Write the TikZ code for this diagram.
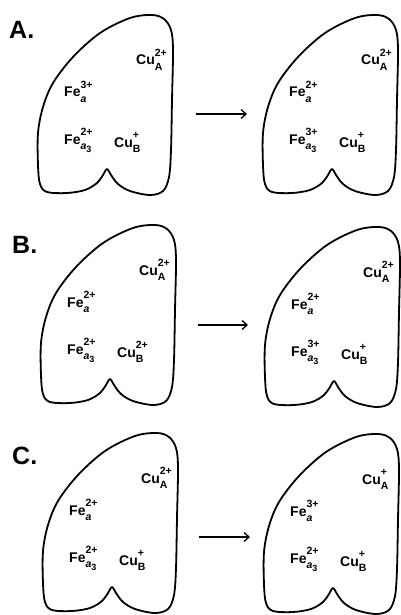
\documentclass[tikz,border=0pt]{standalone}
\usepackage{fontspec}
\setmainfont{Liberation Sans}
\usetikzlibrary{arrows.meta}

\newcommand\ionlbl[3]{#1\rlap{\raisebox{0.6em}{\fontsize{10.5}{10}\selectfont #2}}\raisebox{-0.4em}{\fontsize{10.5}{10}\selectfont #3}}

\tikzset{
 outline/.style={line width=1.8pt, line join=round},
 ionnode/.style={anchor=base west, inner sep=0pt, font=\bfseries\fontsize{14}{14}\selectfont},
 panellabel/.style={anchor=base west, inner sep=0pt, font=\bfseries\fontsize{25}{25}\selectfont},
 rxn/.style={line width=1.3pt, -{Straight Barb[length=5pt,width=9pt]}},
}

\newcommand\cellshape{\draw[outline] plot[smooth cycle, tension=0.55] coordinates {
(152,15) (164,19) (171,30) (173,50) (172,100) (171,150) (169,177) (163,191) (150,195)
(130,191) (118,184) (111,175) (107,169) (103,175) (97,183) (85,190) (67,193) (47,192)
(40,184) (38,165) (38,133) (43,107) (53,83) (73,57) (100,33) (130,18)};}

\newcommand\cell[6]{%
\begin{scope}[shift={#2}]
\cellshape
\node[ionnode] (#1cuA) at (136,65) {\ionlbl{Cu}{#6}{A}};
\node[ionnode] (#1fea) at (64,97) {\ionlbl{Fe}{#3}{\itshape a}};
\node[ionnode] (#1feaa) at (64,144) {\ionlbl{Fe}{#4}{{\itshape a}\raisebox{-0.3em}{\fontsize{9}{9}\selectfont 3}}};
\node[ionnode] (#1cuB) at (114,147) {\ionlbl{Cu}{#5}{B}};
\end{scope}}

\begin{document}
\begin{tikzpicture}[x=1pt,y=-1pt]
\useasboundingbox (0,0) rectangle (400,615);
\cell{al}{(0,0)}{3+}{2+}{+}{2+}
\cell{ar}{(225,0)}{2+}{3+}{+}{2+}
\cell{bl}{(3,210)}{2+}{2+}{2+}{2+}
\cell{br}{(227,212)}{2+}{3+}{+}{2+}
\cell{cl}{(5,418)}{2+}{2+}{+}{2+}
\cell{cr}{(226,419)}{3+}{2+}{+}{+}
\node[panellabel] (labA) at (9,39) {A.};
\node[panellabel] (labB) at (12,253) {B.};
\node[panellabel] (labC) at (12,464) {C.};
\coordinate (a1) at (196,114); \coordinate (a2) at (247,114);
\coordinate (b1) at (198,325); \coordinate (b2) at (248,325);
\coordinate (c1) at (199,537); \coordinate (c2) at (250,537);
\draw[rxn] (a1) -- (a2);
\draw[rxn] (b1) -- (b2);
\draw[rxn] (c1) -- (c2);
\end{tikzpicture}
\end{document}
